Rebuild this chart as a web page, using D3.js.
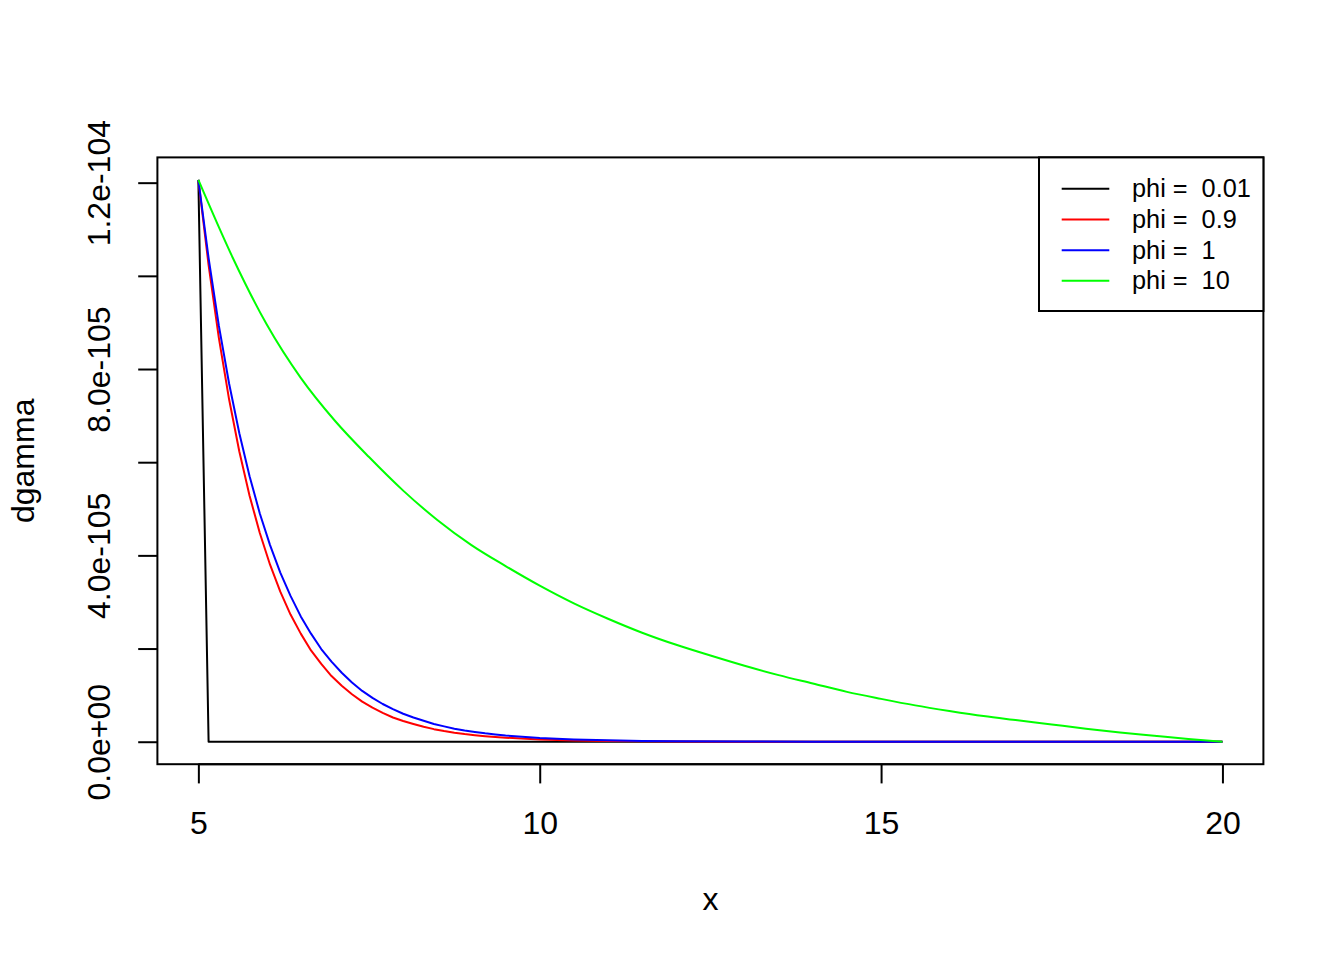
<!DOCTYPE html>
<html>
<head>
<meta charset="utf-8">
<script src="https://cdn.jsdelivr.net/npm/d3@7"></script>
<style>
  html, body { margin: 0; padding: 0; background: #fff; }
  svg { display: block; font-family: "Liberation Sans", Arial, Helvetica, sans-serif; }
  text { white-space: pre; }
</style>
</head>
<body>
<svg id="chart" width="1344" height="960"></svg>
<script>
// ---- data (y values in units of 1e-105) ----
const xBlack = [5, 5.15, 20];
const yBlack = [12.06, 0, 0];

const xFine = [5, 5.15, 5.3, 5.45, 5.6, 5.75, 5.9, 6.05, 6.2, 6.35, 6.5, 6.65, 6.8, 6.95, 7.1, 7.25, 7.4, 7.55, 7.7, 7.85, 8.0,
  8.15, 8.3, 8.45, 8.6, 8.75, 8.9, 9.05, 9.2, 9.35, 9.5, 10, 10.5, 11, 11.5, 12, 13, 14, 15, 16, 17, 18, 19, 20];
const yRed = [12.06, 10.23, 8.67, 7.35, 6.23, 5.28, 4.48, 3.80, 3.22, 2.73, 2.32, 1.96, 1.67, 1.41, 1.20, 1.02, 0.86, 0.73, 0.62, 0.52, 0.445,
  0.38, 0.32, 0.27, 0.23, 0.195, 0.165, 0.14, 0.119, 0.101, 0.086, 0.049, 0.028, 0.016, 0.009, 0.0054, 0.0018, 0.0006, 0.0002, 0, 0, 0, 0, 0];
const yBlue = [12.06, 10.38, 8.93, 7.69, 6.62, 5.70, 4.90, 4.22, 3.63, 3.13, 2.69, 2.32, 1.99, 1.72, 1.48, 1.27, 1.09, 0.94, 0.81, 0.70, 0.60,
  0.52, 0.45, 0.38, 0.33, 0.28, 0.24, 0.21, 0.18, 0.156, 0.134, 0.081, 0.049, 0.030, 0.018, 0.011, 0.004, 0.0015, 0.0005, 0.0002, 0.0001, 0, 0, 0];

const xGreen = [5, 5.5, 6, 6.5, 7, 7.5, 8, 8.5, 9, 9.5, 10, 10.5, 11, 11.5, 12, 12.5, 13, 13.5, 14, 14.5, 15, 15.5, 16, 16.5, 17, 17.5, 18, 18.5, 19, 19.5, 20];
const yGreen = [12.06, 10.4, 8.96, 7.81, 6.89, 6.11, 5.39, 4.76, 4.22, 3.77, 3.35, 2.97, 2.64, 2.34, 2.08, 1.85, 1.63, 1.43, 1.25, 1.07, 0.92, 0.78, 0.66, 0.55, 0.46, 0.37, 0.28, 0.20, 0.13, 0.06, 0];

const seriesNames = ["phi =  0.01", "phi =  0.9", "phi =  1", "phi =  10"];
const seriesColors = ["#000000", "#FF0000", "#0000FF", "#00FF00"];

const xTicks = [5, 10, 15, 20];
const xTickLabels = ["5", "10", "15", "20"];
const yTicks = [0, 2, 4, 6, 8, 10, 12];
const yTickLabels = ["0.0e+00", "", "4.0e-105", "", "8.0e-105", "", "1.2e-104"];

const xLabel = "x";
const yLabel = "dgamma";

// ---- layout ----
const svg = d3.select("#chart");
const L = 157.4, R = 1263.4, T = 157.4, B = 764.2;

const series = [
  {xs: xBlack, ys: yBlack, curve: d3.curveLinear},
  {xs: xFine, ys: yRed, curve: d3.curveLinear},
  {xs: xFine, ys: yBlue, curve: d3.curveLinear},
  {xs: xGreen, ys: yGreen, curve: d3.curveMonotoneX}
];

const allX = [].concat(xBlack, xFine, xGreen);
const allY = [].concat(yBlack, yRed, yBlue, yGreen);
const xmin = d3.min(allX), xmax = d3.max(allX);
const ymin = d3.min(allY), ymax = d3.max(allY);
const xpad = (xmax - xmin) * 0.04, ypad = (ymax - ymin) * 0.04;

const x = d3.scaleLinear().domain([xmin - xpad, xmax + xpad]).range([L, R]);
const y = d3.scaleLinear().domain([ymin - ypad, ymax + ypad]).range([B, T]);

// axes
const xAxis = d3.axisBottom(x).tickValues(xTicks).tickSize(19.2)
  .tickFormat((d, i) => xTickLabels[i]);
const gx = svg.append("g").attr("transform", `translate(0,${B})`).call(xAxis);
gx.select(".domain").remove();
gx.selectAll(".tick line").attr("stroke", "#000").attr("stroke-width", 2);
gx.selectAll(".tick text").attr("y", 834 - B).attr("dy", 0)
  .attr("font-size", 32).attr("font-family", "Liberation Sans, Arial, sans-serif").attr("fill", "#000");
gx.append("line").attr("x1", x(xTicks[0])).attr("x2", x(xTicks[xTicks.length - 1]))
  .attr("y1", 0).attr("y2", 0).attr("stroke", "#000").attr("stroke-width", 2);

const yAxis = d3.axisLeft(y).tickValues(yTicks).tickSize(19.2)
  .tickFormat((d, i) => yTickLabels[i]);
const gy = svg.append("g").attr("transform", `translate(${L},0)`).call(yAxis);
gy.select(".domain").remove();
gy.selectAll(".tick line").attr("stroke", "#000").attr("stroke-width", 2);
gy.selectAll(".tick text").attr("x", 0).attr("dy", 0)
  .attr("transform", `translate(${110.3 - L},0) rotate(-90)`)
  .attr("text-anchor", "middle")
  .attr("font-size", 32).attr("font-family", "Liberation Sans, Arial, sans-serif").attr("fill", "#000");

// axis titles
svg.append("text").attr("x", (L + R) / 2).attr("y", 910).attr("text-anchor", "middle")
  .attr("font-size", 32).text(xLabel);
svg.append("text").attr("transform", `translate(34,${(T + B) / 2}) rotate(-90)`)
  .attr("text-anchor", "middle").attr("font-size", 32).text(yLabel);

// lines
series.forEach((s, i) => {
  const pts = s.xs.map((xv, j) => [xv, s.ys[j]]);
  svg.append("path")
    .attr("d", d3.line().x(d => x(d[0])).y(d => y(d[1])).curve(s.curve)(pts))
    .attr("fill", "none").attr("stroke", seriesColors[i]).attr("stroke-width", 2)
    .attr("stroke-linejoin", "round");
});

// plot box
svg.append("rect").attr("x", L).attr("y", T).attr("width", R - L).attr("height", B - T)
  .attr("fill", "none").attr("stroke", "#000").attr("stroke-width", 2);

// legend
const lgLeft = 1039, lgTop = T, lgBottom = 311;
svg.append("rect").attr("x", lgLeft).attr("y", lgTop).attr("width", R - lgLeft).attr("height", lgBottom - lgTop)
  .attr("fill", "#fff").attr("stroke", "#000").attr("stroke-width", 2);
const rowY = d3.scalePoint().domain(d3.range(seriesNames.length)).range([188.8, 280.8]);
seriesNames.forEach((name, i) => {
  svg.append("line").attr("x1", 1061.7).attr("x2", 1109.3).attr("y1", rowY(i)).attr("y2", rowY(i))
    .attr("stroke", seriesColors[i]).attr("stroke-width", 2);
  svg.append("text").attr("x", 1132).attr("y", rowY(i) + 8.5).attr("font-size", 25.3)
    .attr("fill", "#000").text(name);
});
</script>
</body>
</html>
